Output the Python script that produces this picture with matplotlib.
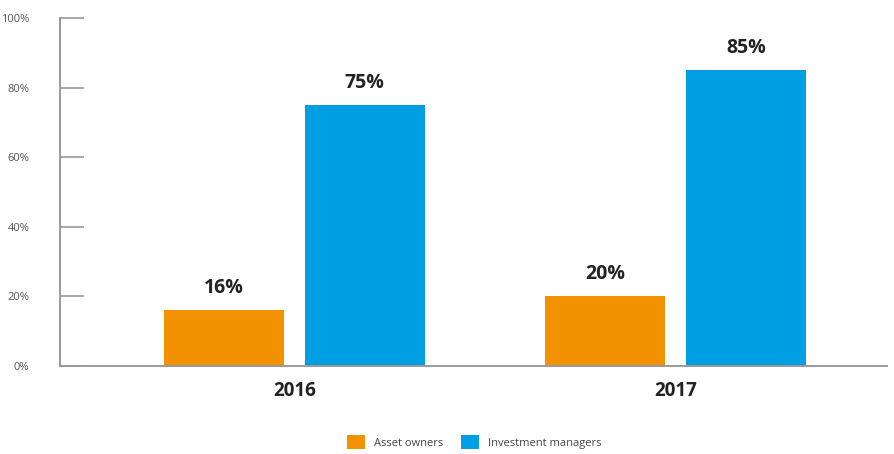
import matplotlib.pyplot as plt
import numpy as np

plt.rcParams['font.family'] = ['Open Sans', 'DejaVu Sans']

years = ['2016', '2017']
asset_owners = [16, 20]
investment_managers = [75, 85]
series_names = ['Asset owners', 'Investment managers']

orange = '#F39200'
blue = '#009FE3'
grey = '#9a9a9a'

x = np.arange(len(years))
width = 0.315
offset = 0.185

fig = plt.figure(figsize=(8.95, 4.54), dpi=100)
ax = fig.add_axes([60 / 895, 88 / 454, 827 / 895, 348 / 454])

b1 = ax.bar(x - offset, asset_owners, width, color=orange, label=series_names[0])
b2 = ax.bar(x + offset, investment_managers, width, color=blue, label=series_names[1])

for bars in (b1, b2):
    for rect in bars:
        h = rect.get_height()
        ax.text(rect.get_x() + rect.get_width() / 2, h + 3.5, f'{h:.0f}%',
                ha='center', va='bottom', fontsize=14, fontweight='bold', color='#222222')

ax.set_xlim(-0.615, 1.555)
ax.set_ylim(0, 100)
ax.set_yticks(np.arange(0, 101, 20))
ax.set_yticklabels([f'{v}%' for v in range(0, 101, 20)], fontsize=8, color='#555555')
ax.set_xticks(x)
ax.set_xticklabels(years, fontsize=13.5, fontweight='bold', color='#222222')

ax.tick_params(axis='y', direction='in', length=17, width=1.2, color=grey, pad=22)
ax.tick_params(axis='x', length=0, pad=11)

for side in ('top', 'right'):
    ax.spines[side].set_visible(False)
for side in ('left', 'bottom'):
    ax.spines[side].set_color(grey)
    ax.spines[side].set_linewidth(1.4)

fig.legend(handles=[b1, b2], loc='lower center', bbox_to_anchor=(0.53, -0.012),
           ncol=2, frameon=False, fontsize=8, handlelength=1.6, handleheight=1.6,
           columnspacing=1.6, handletextpad=0.8, labelcolor='#444444')

fig.savefig('out.png', dpi=100)
